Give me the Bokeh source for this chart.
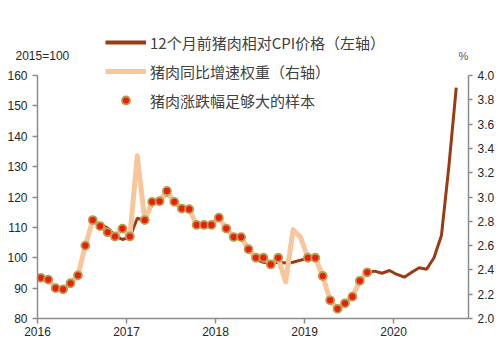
import pandas as pd
from bokeh.plotting import figure
from bokeh.models import (Range1d, LinearAxis, FixedTicker, Legend, LegendItem,
                          Label, ColumnDataSource, NumeralTickFormatter)
from bokeh.embed import file_html
from bokeh.resources import INLINE

# ---------------- data ----------------
months = pd.period_range("2016-01", "2020-09", freq="M")  # 57 months

# 12-month-lagged pork price relative to CPI (left axis, 2015=100)
relative_price = [
    93.4, 92.8, 90.1, 89.5, 91.5, 94.2, 104.1, 112.5, 111.0, 109.8, 107.3, 106.0,
    106.8, 113.0, 112.3, 117.5, 118.6, 121.0, 118.5, 116.2, 116.1, 110.8, 110.5, 110.7,
    113.0, 110.0, 106.7, 106.8, 102.5, 99.5, 98.5, 98.2, 98.5, 98.3, 98.5, 99.2,
    99.8, 99.9, 93.9, 85.9, 83.3, 85.0, 87.3, 92.3, 95.1, 95.6, 94.9, 95.8,
    94.5, 93.6, 95.2, 96.7, 96.2, 100.0, 107.3, 130.0, 156.0,
]

# pork YoY growth weight (right axis, %)
weight_pct = [
    2.335, 2.32, 2.25, 2.24, 2.29, 2.355, 2.60, 2.81, 2.76, 2.71, 2.675, 2.74,
    2.675, 3.34, 2.81, 2.96, 2.965, 3.05, 2.96, 2.905, 2.90, 2.77, 2.77, 2.77,
    2.83, 2.74, 2.67, 2.67, 2.57, 2.50, 2.50, 2.445, 2.50, 2.30, 2.73, 2.67,
    2.50, 2.50, 2.35, 2.15, 2.08, 2.125, 2.18, 2.31, 2.38,
]

# months (index into `months`) where pork price change was large enough
sample_idx = [0, 1, 2, 3, 4, 5, 6, 7, 8, 9, 10, 11, 12,
              14, 15, 16, 17, 18, 19, 20, 21, 22, 23, 24, 25, 26, 27, 28, 29, 30, 31, 32,
              36, 37, 38, 39, 40, 41, 42, 43, 44]

year_ticks = [2016, 2017, 2018, 2019, 2020]
left_ticks = [80, 90, 100, 110, 120, 130, 140, 150, 160]
right_ticks = [2.0, 2.2, 2.4, 2.6, 2.8, 3.0, 3.2, 3.4, 3.6, 3.8, 4.0]

label_price = "12个月前猪肉相对CPI价格（左轴）"
label_weight = "猪肉同比增速权重（右轴）"
label_sample = "猪肉涨跌幅足够大的样本"
unit_left = "2015=100"
unit_right = "%"

# ---------------- helpers ----------------
def xpos(period):
    return period.year + (period.month - 1 + 0.45) / 12.0

x_all = [xpos(m) for m in months]

src_price = ColumnDataSource(dict(x=x_all[:len(relative_price)], y=relative_price))
src_weight = ColumnDataSource(dict(x=x_all[:len(weight_pct)], y=weight_pct))
src_sample = ColumnDataSource(dict(x=[x_all[i] for i in sample_idx],
                                   y=[weight_pct[i] for i in sample_idx]))

BROWN = "#9A3B12"
PEACH = "#F9C59B"
DOT_FILL = "#EE1C0C"
DOT_LINE = "#B5A04E"
AXIS_GREY = "#8C8C8C"
TEXT = "#262626"
LEG_TEXT = "#404040"
CJK = "Noto Sans CJK SC"

W = 500
TOP_H = 62          # band above the plot frame (legend head, unit labels)
MAIN_H = 358 - TOP_H
PX_PER_UNIT = 243 / 80.0   # frame pixels per left-axis unit

# ---------------- main plot ----------------
frame_h = MAIN_H - 40
y_top = 80 + frame_h / PX_PER_UNIT
p = figure(width=W, height=MAIN_H,
           x_range=Range1d(2016, 2016 + 58.1 / 12),
           y_range=Range1d(80, y_top),
           output_backend="svg", toolbar_location=None,
           min_border_left=37, min_border_right=32,
           min_border_top=0, min_border_bottom=40)
p.extra_y_ranges = {"pct": Range1d(2.0, 2.0 + (y_top - 80) / 40.0)}

p.grid.visible = False
p.outline_line_color = None
p.background_fill_color = "white"
p.border_fill_color = "white"

r_price = p.line("x", "y", source=src_price, line_color=BROWN, line_width=3)
r_weight = p.line("x", "y", source=src_weight, y_range_name="pct",
                  line_color=PEACH, line_width=5, line_join="round")
r_sample = p.scatter("x", "y", source=src_sample, y_range_name="pct", size=8,
                     fill_color=DOT_FILL, line_color=DOT_LINE, line_width=1.8)

def style_axis(ax):
    ax.axis_line_color = AXIS_GREY
    ax.axis_line_width = 1.5
    ax.major_tick_line_color = AXIS_GREY
    ax.major_tick_line_width = 1.5
    ax.minor_tick_line_color = None
    ax.major_tick_in = 0
    ax.major_label_text_font = "Liberation Sans"
    ax.major_label_text_font_size = "12px"
    ax.major_label_text_color = TEXT

xa = p.xaxis[0]
style_axis(xa)
xa.ticker = FixedTicker(ticks=year_ticks)
xa.major_tick_out = 5
xa.major_label_standoff = 3

ya = p.yaxis[0]
style_axis(ya)
ya.ticker = FixedTicker(ticks=left_ticks)
ya.bounds = (left_ticks[0], left_ticks[-1])
ya.major_tick_out = 5
ya.major_label_standoff = 5

ra = LinearAxis(y_range_name="pct")
style_axis(ra)
ra.ticker = FixedTicker(ticks=right_ticks)
ra.bounds = (right_ticks[0], right_ticks[-1])
ra.formatter = NumeralTickFormatter(format="0.0")
ra.major_tick_out = 4
ra.major_label_standoff = 5
p.add_layout(ra, "right")

leg_main = Legend(items=[
    LegendItem(label=label_weight, renderers=[r_weight]),
    LegendItem(label=label_sample, renderers=[r_sample]),
], location=(68, frame_h - (100.5 - TOP_H) - 10))

# ---------------- top band (separate root, frame = whole band) ----------------
ptop = figure(width=W, height=TOP_H, x_range=Range1d(0, W), y_range=Range1d(0, TOP_H),
              output_backend="svg", toolbar_location=None,
              x_axis_location=None, y_axis_location=None,
              min_border_left=0, min_border_right=0, min_border_top=0, min_border_bottom=0)
ptop.grid.visible = False
ptop.outline_line_color = None
ptop.border_fill_color = "white"
# key line for the legend: same series, lies outside this band's y-range so only its legend glyph shows
r_price_key = ptop.line("x", "y", source=src_price, line_color=BROWN, line_width=4)
leg_top = Legend(items=[LegendItem(label=label_price, renderers=[r_price_key])],
                 location=(105, TOP_H - 42.7 - 10))

for lg in (leg_main, leg_top):
    lg.glyph_width = 41
    lg.glyph_height = 20
    lg.label_height = 20
    lg.spacing = 8
    lg.padding = 0
    lg.margin = 0
    lg.label_standoff = 4
    lg.label_text_font = CJK
    lg.label_text_font_size = "15px"
    lg.label_text_color = LEG_TEXT
    lg.border_line_color = None
    lg.background_fill_alpha = 0
p.add_layout(leg_main, "center")
ptop.add_layout(leg_top, "center")

ptop.add_layout(Label(x=15, y=TOP_H - 55.5, x_units="screen", y_units="screen", text=unit_left,
                      text_font="Liberation Sans", text_font_size="12px",
                      text_color=TEXT, text_baseline="middle"))
ptop.add_layout(Label(x=463, y=TOP_H - 55, x_units="screen", y_units="screen", text=unit_right,
                      text_font="Liberation Sans", text_font_size="11px",
                      text_color="#555555", text_baseline="middle", text_align="center"))

open("out.html", "w").write(file_html([ptop, p], INLINE))
